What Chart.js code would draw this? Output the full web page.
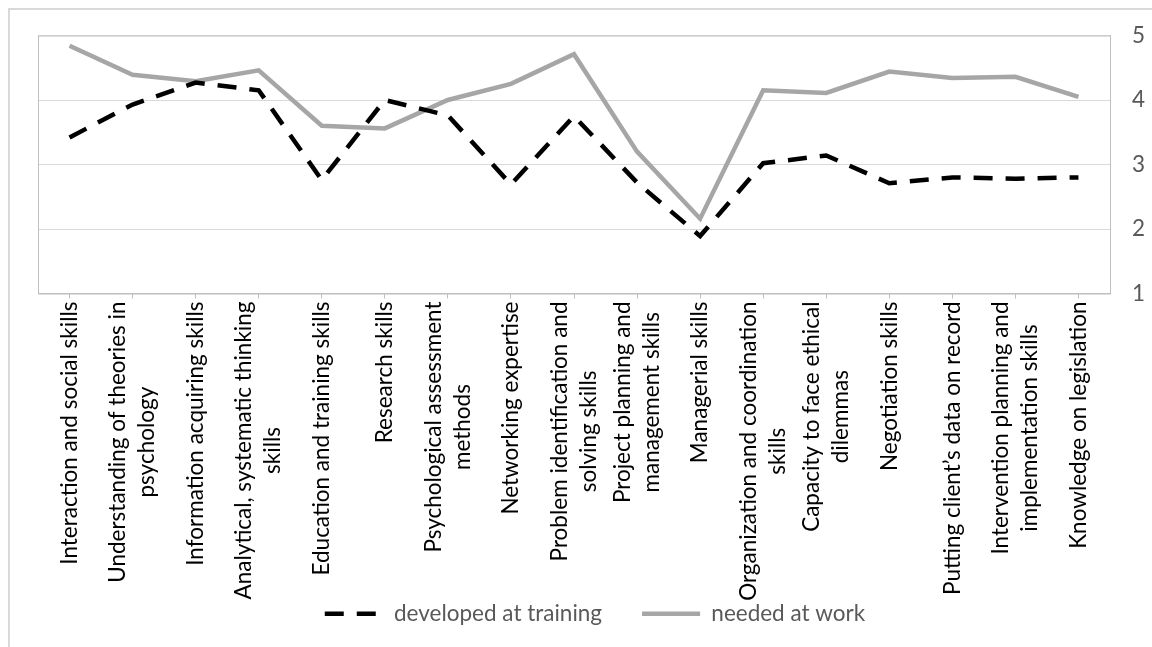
<!DOCTYPE html>
<html>
<head>
<meta charset="utf-8">
<script src="https://cdn.jsdelivr.net/npm/chart.js@4.4.1/dist/chart.umd.min.js"></script>
<style>
  html, body { margin: 0; padding: 0; background: #fff; }
  #wrap { width: 1152px; height: 647px; position: relative; }
</style>
</head>
<body>
<div id="wrap"><canvas id="chart"></canvas></div>
<script>
const skills = [
    ['Interaction and social skills'],
    ['Understanding of theories in', 'psychology'],
    ['Information acquiring skills'],
    ['Analytical, systematic thinking', 'skills'],
    ['Education and training skills'],
    ['Research skills'],
    ['Psychological assessment', 'methods'],
    ['Networking expertise'],
    ['Problem identification and', 'solving skills'],
    ['Project planning and', 'management skills'],
    ['Managerial skills'],
    ['Organization and coordination', 'skills'],
    ['Capacity to face ethical', 'dilemmas'],
    ['Negotiation skills'],
    ['Putting client\u2019s data on record'],
    ['Intervention planning and', 'implementation skills'],
    ['Knowledge on legislation']
];
const developedAtTraining = [3.42, 3.93, 4.27, 4.15, 2.76, 4.00, 3.76, 2.69, 3.75, 2.72, 1.89, 3.02, 3.14, 2.71, 2.80, 2.78, 2.80];
const neededAtWork = [4.84, 4.39, 4.29, 4.46, 3.60, 3.56, 4.00, 4.25, 4.71, 3.20, 2.16, 4.15, 4.11, 4.44, 4.34, 4.36, 4.05];
const yTicks = [1, 2, 3, 4, 5];

const FONT = 'Lato';
const LABEL_SIZE = 22.5;
const LINE_GAP = 29;

// outer frame + plot frame
const framePlugin = {
    id: 'frames',
    beforeDraw(chart) {
        const ctx = chart.ctx;
        ctx.save();
        ctx.strokeStyle = '#d9d9d9';
        ctx.lineWidth = 2;
        ctx.strokeRect(9, 9, 1200, 700);
        ctx.restore();
    },
    afterDatasetsDraw(chart) {
        const { ctx, chartArea: a } = chart;
        ctx.save();
        ctx.strokeStyle = '#bfbfbf';
        ctx.lineWidth = 1;
        ctx.strokeRect(a.left + 0.5, a.top + 0.5, a.right - a.left, a.bottom - a.top);
        ctx.restore();
    }
};

// rotated category labels, lines centred on each other like the original
const xLabelPlugin = {
    id: 'xLabels',
    afterDraw(chart) {
        const { ctx, chartArea: a } = chart;
        const x = chart.scales.x;
        ctx.save();
        ctx.font = LABEL_SIZE + 'px ' + FONT;
        ctx.fillStyle = '#000';
        ctx.textAlign = 'center';
        ctx.textBaseline = 'middle';
        skills.forEach((lines, i) => {
            const px = x.getPixelForTick(i);
            const maxW = Math.max(...lines.map(l => ctx.measureText(l).width));
            const yc = a.bottom + 8 + maxW / 2;
            lines.forEach((line, j) => {
                const lx = px + (j - (lines.length - 1) / 2) * LINE_GAP;
                ctx.save();
                ctx.translate(lx, yc);
                ctx.rotate(-Math.PI / 2);
                ctx.fillText(line, 0, 0);
                ctx.restore();
            });
        });
        ctx.restore();
    }
};

new Chart(document.getElementById('chart'), {
    type: 'line',
    data: {
        labels: skills,
        datasets: [
            {
                label: 'developed at training',
                data: developedAtTraining,
                borderColor: '#000000',
                backgroundColor: '#000000',
                borderWidth: 4.5,
                borderDash: [19, 13],
                pointRadius: 0,
                tension: 0
            },
            {
                label: 'needed at work',
                data: neededAtWork,
                borderColor: '#a6a6a6',
                backgroundColor: '#a6a6a6',
                borderWidth: 4.5,
                pointRadius: 0,
                tension: 0
            }
        ]
    },
    options: {
        responsive: true,
        maintainAspectRatio: false,
        animation: false,
        layout: { padding: { left: 38, top: 33, right: 0, bottom: 12 } },
        plugins: {
            legend: {
                position: 'bottom',
                labels: {
                    usePointStyle: true,
                    pointStyle: 'line',
                    pointStyleWidth: 58,
                    padding: 40,
                    color: '#595959',
                    font: { family: FONT, size: LABEL_SIZE },
                    generateLabels(chart) {
                        const items = Chart.defaults.plugins.legend.labels.generateLabels(chart);
                        items.forEach(it => {
                            const ds = chart.data.datasets[it.datasetIndex];
                            it.lineDash = ds.borderDash || [];
                            it.lineWidth = ds.borderWidth;
                            it.strokeStyle = ds.borderColor;
                        });
                        return items;
                    }
                }
            },
            tooltip: { enabled: false }
        },
        scales: {
            x: {
                offset: true,
                grid: {
                    drawOnChartArea: false,
                    drawTicks: true,
                    tickLength: 5,
                    color: '#bfbfbf'
                },
                border: { display: true, color: '#bfbfbf' },
                ticks: { display: false },
                afterFit(s) { s.height = 269; }
            },
            y: {
                position: 'right',
                min: 1,
                max: 5,
                afterBuildTicks(s) { s.ticks = yTicks.map(v => ({ value: v })); },
                grid: { color: '#d9d9d9', drawTicks: false },
                border: { display: true, color: '#bfbfbf' },
                ticks: {
                    padding: 22,
                    color: '#595959',
                    font: { family: FONT, size: LABEL_SIZE }
                },
                afterFit(s) { s.width = 42; }
            }
        }
    },
    plugins: [framePlugin, xLabelPlugin]
});
</script>
</body>
</html>
